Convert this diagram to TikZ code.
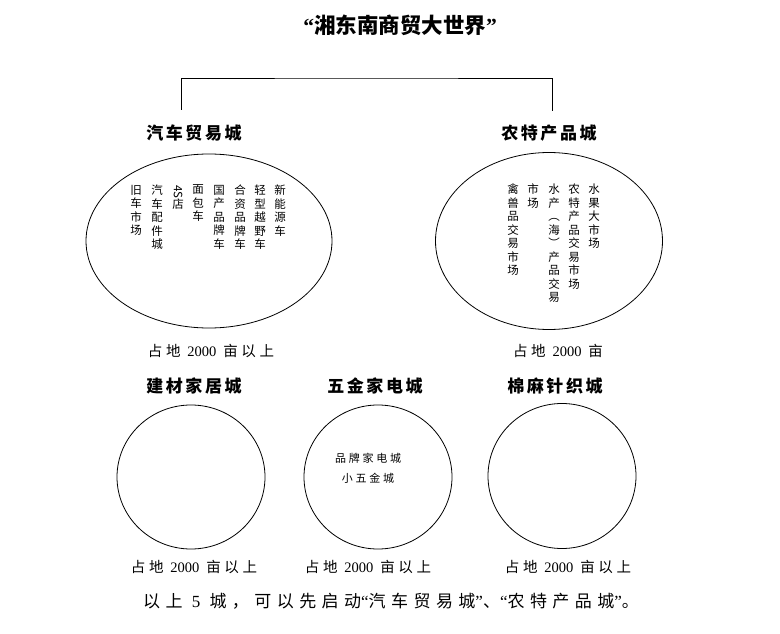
\documentclass[tikz,border=0pt]{standalone}
\usepackage{graphicx}
\usepackage{fontspec}
\setmainfont{Liberation Serif}
\newfontfamily\cjk{Noto Sans CJK SC}
\newfontfamily\cjkw{Noto Sans CJK SC}[LetterSpace=15]
\newfontfamily\cjkww{Noto Sans CJK SC}[LetterSpace=25]
\newfontfamily\cjkwide{Noto Sans CJK SC}[LetterSpace=32]
\usetikzlibrary{shapes.geometric, positioning}

\begin{document}
\begin{tikzpicture}[
			x=1pt, y=-1pt,
			every node/.style={inner sep=0pt, outer sep=0pt},
			title/.style={font=\bfseries\fontsize{21.5}{21.5}\selectfont},
			citylabel/.style={font=\cjkw\bfseries\fontsize{17}{17}\selectfont},
			cityshape/.style={ellipse, draw, line width=0.8pt},
			vcol/.style={anchor=north, align=center, font=\cjk\fontsize{11.5}{13.5}\selectfont},
			areanote/.style={font=\cjkww\fontsize{14.5}{14.5}\selectfont},
			innertext/.style={font=\cjkww\fontsize{11}{11}\selectfont},
			summary/.style={font=\cjkwide\fontsize{17}{17}\selectfont},
			bracket/.style={line width=0.8pt}
			]
			\useasboundingbox (0,0) rectangle (780,634);
			
			% Title and bracket
			\node (title) [title] at (400,25) {“{\cjk 湘东南商贸大世界}”};
			\coordinate (brl) at (181,110);
			\coordinate (brr) at (552,111);
			\coordinate (brtop) at (366,78);
			\draw [bracket] (brl) |- (brtop) -| (brr);
			
			% Top row
			\node (carlabel) [citylabel] at (194,133) {汽车贸易城};
			\node (farmlabel) [citylabel] at (549,133) {农特产品城};
			\node (carmall) [cityshape, minimum width=246pt, minimum height=174pt] at (209,241) {};
			\node (farmmall) [cityshape, minimum width=227pt, minimum height=177pt] at (549,241) {};
			
			% Columns inside the car mall
			\node (car1) [vcol] at (280,185) {新\\能\\源\\车};
			\node (car2) [vcol] at (260,185) {轻\\型\\越\\野\\车};
			\node (car3) [vcol] at (240,185) {合\\资\\品\\牌\\车};
			\node (car4) [vcol] at (219,185) {国\\产\\品\\牌\\车};
			\node (car5) [vcol] at (198,185) {面\\包\\车};
			\node (car6) [vcol] at (178,185) {\rotatebox{-90}{4S}\\店};
			\node (car7) [vcol] at (157,185) {汽\\车\\配\\件\\城};
			\node (car8) [vcol] at (136,185) {旧\\车\\市\\场};
			
			% Columns inside the farm mall
			\node (farm1) [vcol] at (594,184) {水\\果\\大\\市\\场};
			\node (farm2) [vcol] at (574,184) {农\\特\\产\\品\\交\\易\\市\\场};
			\node (farm3) [vcol] at (554,184) {水\\产\\︵\\海\\︶\\产\\品\\交\\易};
			\node (farm4) [vcol] at (533,184) {市\\场};
			\node (farm5) [vcol] at (513,184) {禽\\兽\\品\\交\\易\\市\\场};
			
			\node (cararea) [areanote] at (211,351) {占地 {\rmfamily 2000} 亩以上};
			\node (farmarea) [areanote] at (558,351) {占地 {\rmfamily 2000} 亩};
			
			% Bottom row
			\node (buildlabel) [citylabel] at (194,386) {建材家居城};
			\node (hardlabel) [citylabel] at (375,386) {五金家电城};
			\node (textlabel) [citylabel] at (555,386) {棉麻针织城};
			\node (buildmall) [cityshape, minimum width=148pt, minimum height=144pt] at (191,477) {};
			\node (hardmall) [cityshape, minimum width=148pt, minimum height=144pt] at (378,477) {};
			\node (textmall) [cityshape, minimum width=148pt, minimum height=145pt] at (562,476) {};
			\node (brand) [innertext] at (368,458) {品牌家电城};
			\node (small) [innertext] at (368,478) {小五金城};
			
			\node (buildarea) [areanote] at (194,567) {占地 {\rmfamily 2000} 亩以上};
			\node (hardarea) [areanote] at (368,567) {占地 {\rmfamily 2000} 亩以上};
			\node (textarea) [areanote] at (568,567) {占地 {\rmfamily 2000} 亩以上};
			
			\node (note) [summary] at (391,601) {以上 {\rmfamily 5} 城，可以先启动{\rmfamily “}汽车贸易城{\rmfamily ”}、{\rmfamily “}农特产品城{\rmfamily ”}。};
			
		\end{tikzpicture}
\end{document}
